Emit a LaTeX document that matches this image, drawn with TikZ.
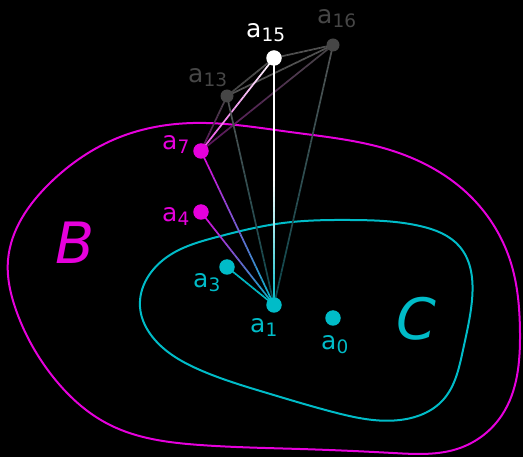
\documentclass[tikz,border=0pt]{standalone}
\usepackage{fontspec}
\setmainfont{DejaVu Sans}
\usetikzlibrary{calc,hobby}
\definecolor{mag}{RGB}{230,0,220}
\definecolor{cyn}{RGB}{0,188,200}
\definecolor{dotgray}{RGB}{70,70,70}
\definecolor{lgray}{RGB}{82,82,82}
\definecolor{dteal}{RGB}{12,72,78}
\definecolor{dpurp}{RGB}{95,20,95}
\newcommand{\gline}[4]{%
  \foreach \i in {0,...,23}{%
    \pgfmathtruncatemacro{\p}{100-(\i+0.5)*100/24}%
    \draw[#3!\p!#4, edge] ($(#1)!\i/24!(#2)$) -- ($(#1)!\i/24+1/24!(#2)$);
  }}
\newcommand{\lab}[1]{{\fontsize{25}{25}\selectfont a}{\fontsize{18.5}{18.5}\selectfont\raisebox{-4pt}{#1}}}
\tikzset{
  edge/.style={line width=1.7pt},
  dotbig/.style={circle, fill, inner sep=0pt, minimum size=15.5pt},
  dotsmall/.style={circle, fill, inner sep=0pt, minimum size=13pt},
  lbl/.style={anchor=base west, inner sep=0pt},
  region/.style={line width=2pt, use Hobby shortcut, closed=true},
  setname/.style={inner sep=0pt, font=\fontsize{57}{57}\selectfont\itshape}
}
\begin{document}
\begin{tikzpicture}[x=1pt, y=-1pt]
\fill[black] (0,0) rectangle (523,457);
\useasboundingbox (0,0) rectangle (523,457);
% regions
\draw[mag, region] (8,260) .. (50,183) .. (120,137) .. (193,123) .. (290,132) .. (390,150) .. (467,193) .. (510,260) .. (520,333) .. (502,415) .. (460,448) .. (393,453) .. (300,449) .. (200,445) .. (110,425) .. (50,373) .. (16,310);
\draw[cyn, region] (140,307) .. (167,257) .. (217,237) .. (283,223) .. (350,220) .. (420,226) .. (460,247) .. (472,300) .. (463,350) .. (443,400) .. (400,420) .. (333,412) .. (267,393) .. (200,370) .. (155,340);
\node[setname, text=mag] (B) at (75,243) {B};
\node[setname, text=cyn] (C) at (416,319) {C};
% coordinates of points
\coordinate (p15) at (274,58);
\coordinate (p16) at (333,45);
\coordinate (p13) at (227,96);
\coordinate (p7) at (201,151);
\coordinate (p4) at (201,212);
\coordinate (p3) at (227,267);
\coordinate (p1) at (274,305);
\coordinate (p0) at (333,318);
\coordinate (pm) at ($(p15)!0.5!(p1)$);
% edges
\gline{p15}{p16}{lgray}{lgray}
\gline{p13}{p16}{lgray}{lgray}
\gline{p15}{p13}{lgray}{dotgray}
\gline{p7}{p13}{dpurp}{dotgray}
\gline{p7}{p16}{dpurp}{dotgray}
\gline{p7}{p15}{mag!70!white}{white}
\gline{p13}{p1}{lgray}{dteal}
\gline{p16}{p1}{lgray}{dteal}
\gline{p15}{pm}{white}{white}
\gline{pm}{p1}{white}{cyn}
\gline{p7}{p1}{mag}{cyn}
\gline{p4}{p1}{mag}{cyn}
\gline{p3}{p1}{cyn}{cyn}
% dots
\node[dotsmall, fill=dotgray] (a16) at (p16) {};
\node[dotsmall, fill=dotgray] (a13) at (p13) {};
\node[dotbig, fill=white] (a15) at (p15) {};
\node[dotbig, fill=mag] (a7) at (p7) {};
\node[dotbig, fill=mag] (a4) at (p4) {};
\node[dotbig, fill=cyn] (a3) at (p3) {};
\node[dotbig, fill=cyn] (a1) at (p1) {};
\node[dotbig, fill=cyn] (a0) at (p0) {};
% labels
\node[lbl, text=white] (l15) at (246,38) {\lab{15}};
\node[lbl, text=dotgray] (l16) at (317,24) {\lab{16}};
\node[lbl, text=dotgray] (l13) at (188,83) {\lab{13}};
\node[lbl, text=mag] (l7) at (162,150) {\lab{7}};
\node[lbl, text=mag] (l4) at (162,222) {\lab{4}};
\node[lbl, text=cyn] (l3) at (193,288) {\lab{3}};
\node[lbl, text=cyn] (l1) at (250,333) {\lab{1}};
\node[lbl, text=cyn] (l0) at (321,350) {\lab{0}};
\end{tikzpicture}
\end{document}
